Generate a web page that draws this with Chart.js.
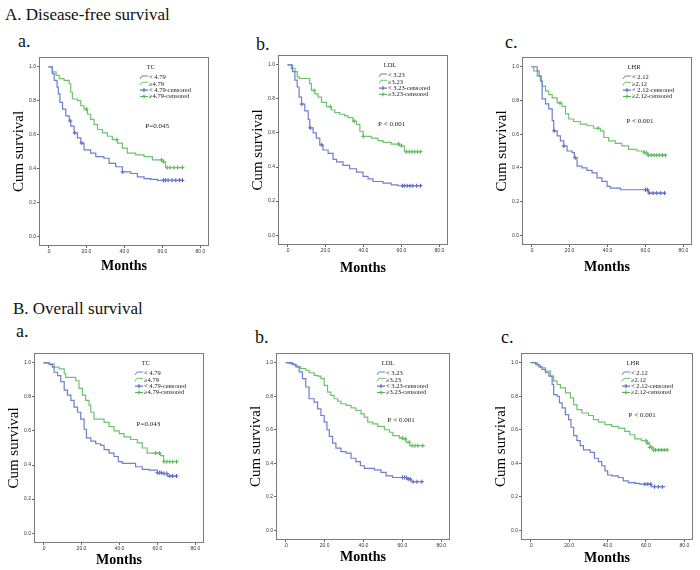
<!DOCTYPE html>
<html>
<head>
<meta charset="utf-8">
<script src="https://cdn.jsdelivr.net/npm/chart.js@4.4.0/dist/chart.umd.min.js"></script>
<style>
body{margin:0;background:#fff;width:700px;height:570px;position:relative;overflow:hidden;font-family:"Liberation Serif","DejaVu Serif",serif;}
.lbl{position:absolute;white-space:nowrap;line-height:20px;color:#111;}
canvas{position:absolute;}
</style>
</head>
<body>
<div class="lbl" style="left:5px;top:5px;font-size:17px">A. Disease-free survival</div>
<div class="lbl" style="left:18px;top:31px;font-size:18px">a.</div>
<div class="lbl" style="left:256px;top:34px;font-size:18px">b.</div>
<div class="lbl" style="left:505px;top:32px;font-size:18px">c.</div>
<div class="lbl" style="left:13px;top:299px;font-size:17px">B. Overall survival</div>
<div class="lbl" style="left:16px;top:321px;font-size:18px">a.</div>
<div class="lbl" style="left:255px;top:327px;font-size:18px">b.</div>
<div class="lbl" style="left:501px;top:327px;font-size:18px">c.</div>
<script>
/* ------------------------------------------- */
/* DATA -------------------------------------- */
/* ------------------------------------------- */
let xTickVals = [0, 20, 40, 60, 80];
let xTickLabels = ['.0', '20.0', '40.0', '60.0', '80.0'];
let yTickVals = [0, 0.2, 0.4, 0.6, 0.8, 1.0];
let yTickLabels = ['0.0', '0.2', '0.4', '0.6', '0.8', '1.0'];

let markers = ['TC', 'LDL', 'LHR'];
let cutoffs = ['4.79', '3.23', '2.12'];
let dfsPValues = ['P=0.045', 'P < 0.001', 'P < 0.001'];
let osPValues = ['P=0.043', 'P < 0.001', 'P < 0.001'];

/* Disease-free survival: [months, cum survival] steps */
let dfsTcLow = [[0,1],[2,0.96],[3,0.92],[4.5,0.88],[5.2,0.84],[6,0.79],[7.4,0.75],[9.1,0.71],[10.9,0.68],[11.7,0.65],[13.5,0.61],[15.2,0.58],[17,0.55],[18.7,0.51],[22.2,0.49],[24.9,0.47],[29.2,0.46],[31.9,0.43],[35.4,0.41],[38.9,0.38],[43.3,0.37],[46.8,0.35],[50.3,0.34],[53.8,0.335],[57.3,0.33],[70.5,0.33]];
let dfsTcHigh = [[0,1],[2,0.97],[4,0.95],[5.6,0.93],[8.2,0.92],[10.9,0.9],[11.7,0.85],[12.6,0.81],[15.2,0.8],[17,0.77],[18.7,0.75],[20.5,0.72],[22.2,0.69],[24,0.66],[25.8,0.63],[28.4,0.61],[31,0.59],[33.6,0.57],[36.3,0.55],[38.9,0.52],[41.5,0.49],[45.9,0.48],[50.3,0.47],[54.7,0.45],[60,0.44],[61.6,0.405],[70.5,0.405]];
let dfsLdlLow = [[0,1],[2.6,0.96],[3.9,0.91],[5.1,0.87],[6.1,0.81],[7.4,0.77],[9.1,0.73],[10.9,0.68],[11.7,0.63],[13.5,0.6],[15.2,0.57],[17,0.53],[18.7,0.5],[21.4,0.48],[24,0.445],[25.8,0.43],[29.2,0.41],[32.7,0.39],[36.3,0.37],[39.8,0.345],[42.4,0.33],[45,0.315],[50.3,0.305],[54.6,0.295],[58,0.29],[70,0.29]];
let dfsLdlHigh = [[0,1],[2,0.98],[3.9,0.96],[5.1,0.93],[6.1,0.92],[11.7,0.89],[12.6,0.85],[14.4,0.83],[16.1,0.81],[17.9,0.78],[20.5,0.755],[23.1,0.735],[24.9,0.72],[27.5,0.71],[30.1,0.7],[31.9,0.69],[34.5,0.67],[36.3,0.65],[38.1,0.61],[39.8,0.58],[44.1,0.57],[47.6,0.555],[50.3,0.545],[54.6,0.535],[59,0.525],[61.6,0.49],[70.5,0.49]];
let dfsLhrLow = [[0,1],[3,0.975],[4,0.945],[5.1,0.915],[5.6,0.81],[7.4,0.78],[9.1,0.75],[10.9,0.68],[11.7,0.62],[13.5,0.59],[15.2,0.56],[17,0.53],[18.7,0.5],[21.4,0.49],[22.6,0.46],[24,0.41],[26.6,0.4],[29.2,0.385],[31.9,0.37],[34.5,0.34],[37.1,0.32],[39.8,0.29],[41.5,0.28],[46.8,0.27],[61.6,0.25],[70,0.25]];
let dfsLhrHigh = [[0,1],[1.2,0.975],[3,0.945],[4.7,0.915],[5.6,0.885],[7.4,0.855],[9.1,0.835],[10.9,0.815],[13.5,0.785],[16.1,0.765],[17.9,0.72],[19.6,0.69],[22.2,0.675],[25.7,0.66],[29.2,0.65],[32.7,0.635],[36.3,0.62],[38.1,0.58],[40.6,0.56],[44.1,0.545],[47.6,0.53],[51.1,0.51],[55.5,0.5],[59,0.49],[60.8,0.475],[70.5,0.475]];

/* Overall survival */
let osTcLow = [[0,1],[3,0.99],[4.7,0.975],[5.6,0.945],[7.4,0.925],[9.1,0.89],[10.9,0.84],[12.6,0.81],[14.4,0.78],[16.1,0.74],[17.9,0.71],[19.6,0.67],[21.4,0.61],[22.6,0.56],[24.9,0.54],[27.5,0.525],[30.1,0.515],[31.9,0.49],[34.5,0.47],[37.1,0.45],[39.4,0.42],[41.5,0.41],[48.5,0.39],[52,0.375],[55.5,0.37],[59.9,0.355],[62.5,0.35],[65.1,0.335],[70,0.335]];
let osTcHigh = [[0,1],[3,0.995],[5.6,0.975],[8.2,0.965],[10.9,0.935],[11.7,0.915],[17,0.895],[18.7,0.85],[20.5,0.81],[22.2,0.78],[24,0.75],[24.9,0.71],[26.6,0.67],[31.9,0.65],[34.5,0.625],[37.1,0.6],[39.8,0.585],[42.4,0.565],[45.9,0.55],[49.4,0.53],[52,0.5],[54.6,0.47],[61.6,0.455],[63.2,0.42],[70,0.42]];
let osLdlLow = [[0,1],[3.4,0.99],[5.2,0.975],[6.9,0.945],[8.6,0.905],[10.3,0.855],[12,0.785],[14.6,0.765],[16.4,0.725],[18.1,0.685],[19.8,0.645],[21.2,0.6],[22.4,0.56],[24.1,0.52],[25.8,0.49],[28.4,0.47],[31,0.46],[33.6,0.43],[36.1,0.41],[38.4,0.385],[40.4,0.37],[45.6,0.36],[49,0.345],[51.6,0.325],[55,0.315],[62.8,0.305],[64.5,0.29],[70,0.29]];
let osLdlHigh = [[0,1],[1.7,0.995],[4.3,0.985],[6,0.975],[7.7,0.965],[10.3,0.955],[12,0.94],[14.6,0.925],[16.4,0.92],[18.1,0.905],[19.8,0.865],[21.5,0.825],[23.2,0.805],[24.9,0.785],[26.7,0.77],[28.4,0.755],[31,0.745],[33.6,0.73],[36.1,0.715],[38.7,0.695],[40.4,0.675],[42.2,0.645],[44.8,0.635],[47.3,0.62],[50.8,0.6],[53.4,0.585],[55.1,0.565],[58.5,0.55],[60.2,0.545],[62,0.525],[63.7,0.505],[70.5,0.505]];
let osLhrLow = [[0,1],[2.6,0.99],[4.3,0.975],[6,0.96],[7.7,0.94],[9.5,0.92],[11.2,0.87],[12,0.81],[13.8,0.8],[15,0.76],[16.4,0.73],[18.1,0.69],[19.8,0.66],[21,0.615],[22.4,0.565],[24.1,0.535],[25.8,0.505],[27.5,0.48],[31,0.465],[33.2,0.43],[35.3,0.41],[37,0.385],[38.7,0.355],[40.1,0.33],[42.2,0.325],[45.6,0.315],[48.2,0.295],[50.8,0.285],[54.2,0.28],[56.8,0.275],[62.8,0.26],[70,0.26]];
let osLhrHigh = [[0,1],[3.4,0.985],[5.2,0.97],[7.7,0.95],[10.3,0.92],[12,0.89],[13.8,0.87],[15.5,0.85],[18.1,0.82],[20.7,0.79],[22.4,0.75],[24.1,0.72],[26.7,0.7],[30.1,0.685],[32.7,0.66],[35.3,0.645],[38.7,0.63],[42.2,0.62],[45.6,0.61],[49,0.59],[51.6,0.57],[54.2,0.545],[57.6,0.535],[60.2,0.52],[62,0.495],[63.7,0.48],[71,0.48]];

/* Censored times (months) */
let dfsTcLowCens = [11.5,13.8,17.5,39,60.5,61.5,63,65,67,69,70.5];
let dfsTcHighCens = [20,36,59.5,60.5,62.5,64,66,68,70.5];
let dfsLdlLowCens = [7.5,12,18,60.5,61.5,63,64.5,66,68,70];
let dfsLdlHighCens = [14,22.5,35,40,58.5,60,62.5,64,65.5,67,68.5,70];
let dfsLhrLowCens = [12,17,23,60,61,62,64,66,68,70];
let dfsLhrHighCens = [15,35,59.5,60.5,61.5,63,64.5,66,67.5,69,70.5];
let osTcLowCens = [60,61,62,63.5,65,66.5,68,70];
let osTcHighCens = [59,61,63.5,65,66.5,68,70];
let osLdlLowCens = [60,61,62,63,64,65.5,67.5,70];
let osLdlHighCens = [60,61.5,63.5,65,66.5,68,70.5];
let osLhrLowCens = [59.5,61,62.5,64.5,66.5,68.5];
let osLhrHighCens = [60,61,62,63,64,65,66.5,68,69.5,71];

/* ------------------------------------------- */
/* STYLE ------------------------------------- */
/* ------------------------------------------- */
let serif = "'Liberation Serif', 'DejaVu Serif', serif";
let sans = "'Liberation Sans', 'DejaVu Sans', sans-serif";
let blueLine = '#6f7ed0';
let blueMark = '#3f4fb0';
let greenLine = '#6cc46c';
let greenMark = '#3fae3f';

/* panel frame boxes on the page: left, top, right, bottom */
let panels = [
  {frame:[39,57,209,246], gap:20, m:0, p:dfsPValues[0], pAt:[51,0.65], low:dfsTcLow, high:dfsTcHigh, lowC:dfsTcLowCens, highC:dfsTcHighCens},
  {frame:[278,55,448,245], gap:23, m:1, p:dfsPValues[1], pAt:[47.7,0.65], low:dfsLdlLow, high:dfsLdlHigh, lowC:dfsLdlLowCens, highC:dfsLdlHighCens},
  {frame:[522,57,692,245], gap:22, m:2, p:dfsPValues[2], pAt:[50,0.675], low:dfsLhrLow, high:dfsLhrHigh, lowC:dfsLhrLowCens, highC:dfsLhrHighCens},
  {frame:[34,353,204,543], gap:17, m:0, p:osPValues[0], pAt:[49,0.64], low:osTcLow, high:osTcHigh, lowC:osTcLowCens, highC:osTcHighCens},
  {frame:[276,353,450,540], gap:17, m:1, p:osPValues[1], pAt:[52.4,0.66], low:osLdlLow, high:osLdlHigh, lowC:osLdlLowCens, highC:osLdlHighCens},
  {frame:[521,353,693,540], gap:18, m:2, p:osPValues[2], pAt:[51,0.69], low:osLhrLow, high:osLhrHigh, lowC:osLhrLowCens, highC:osLhrHighCens}
];

function stepValue(curve, t) {
  let v = curve[0][1];
  curve.forEach(function(d) { if (d[0] <= t) v = d[1]; });
  return v;
}

/* frame round the plot area */
let framePlugin = {
  id: 'frameBox',
  beforeDatasetsDraw(chart) {
    let a = chart.chartArea, ctx = chart.ctx;
    ctx.save();
    ctx.strokeStyle = '#7a7a7a';
    ctx.lineWidth = 1;
    ctx.strokeRect(a.left + 0.5, a.top + 0.5, a.right - a.left - 1, a.bottom - a.top - 1);
    ctx.restore();
  }
};

/* SPSS style legend + p value */
let kmLegend = {
  id: 'kmLegend',
  afterDraw(chart, args, opts) {
    let a = chart.chartArea, ctx = chart.ctx;
    let m = opts.m;
    let rows = ['< ' + cutoffs[m], '\u2265' + cutoffs[m], '< ' + cutoffs[m] + '-censored', '\u2265' + cutoffs[m] + '-censored'];
    let cols = [blueLine, greenLine, blueMark, greenMark];
    ctx.save();
    ctx.font = '6.5px ' + serif;
    ctx.fillStyle = '#1a1a1a';
    ctx.textBaseline = 'middle';
    ctx.textAlign = 'center';
    ctx.fillText(markers[m], a.left + 112, a.top + 10);
    ctx.textAlign = 'left';
    rows.forEach(function(txt, i) {
      let iy = a.top + 20.5 + i * 6.3;
      let ix = a.left + 101;
      ctx.strokeStyle = cols[i];
      ctx.lineWidth = 1;
      ctx.beginPath();
      if (i < 2) {
        ctx.moveTo(ix, iy + 1.5);
        ctx.lineTo(ix + 2, iy - 1.5);
        ctx.lineTo(ix + 8, iy - 1.5);
      } else {
        ctx.moveTo(ix, iy);
        ctx.lineTo(ix + 8, iy);
        ctx.moveTo(ix + 4, iy - 2);
        ctx.lineTo(ix + 4, iy + 2);
      }
      ctx.stroke();
      ctx.fillStyle = '#1a1a1a';
      ctx.fillText(txt, a.left + 110, iy);
    });
    let px = chart.scales.x.getPixelForValue(opts.pAt[0]);
    let py = chart.scales.y.getPixelForValue(opts.pAt[1]);
    ctx.font = '7px ' + serif;
    ctx.fillText(opts.p, px, py);
    ctx.restore();
  }
};

function makePanel(p) {
  let f = p.frame;
  let fw = f[2] - f[0], fh = f[3] - f[1];
  let xH = p.gap + 9;
  let cv = document.createElement('canvas');
  cv.width = fw + 36;
  cv.height = fh + 8 + xH;
  cv.style.left = (f[0] - 30) + 'px';
  cv.style.top = (f[1] - 8) + 'px';
  document.body.appendChild(cv);

  let toXY = function(c) { return c.map(function(d) { return {x: d[0], y: d[1]}; }); };
  let cens = function(c, times) { return times.map(function(t) { return {x: t, y: stepValue(c, t)}; }); };

  new Chart(cv, {
    type: 'line',
    data: {
      datasets: [
        {data: toXY(p.low), borderColor: blueLine, borderWidth: 1.2, stepped: true, pointRadius: 0, fill: false},
        {data: toXY(p.high), borderColor: greenLine, borderWidth: 1.2, stepped: true, pointRadius: 0, fill: false},
        {data: cens(p.low, p.lowC), showLine: false, pointStyle: 'cross', pointRadius: 2, borderColor: blueMark, borderWidth: 1},
        {data: cens(p.high, p.highC), showLine: false, pointStyle: 'cross', pointRadius: 2, borderColor: greenMark, borderWidth: 1}
      ]
    },
    options: {
      responsive: false,
      animation: false,
      layout: {padding: {left: 0, top: 8, right: 6, bottom: 0}},
      plugins: {
        legend: {display: false},
        tooltip: {enabled: false},
        kmLegend: {m: p.m, p: p.p, pAt: p.pAt}
      },
      scales: {
        x: {
          type: 'linear', min: -5, max: 84.5,
          afterBuildTicks: function(s) { s.ticks = xTickVals.map(function(v) { return {value: v}; }); },
          afterFit: function(s) { s.height = xH; },
          ticks: {callback: function(v, i) { return xTickLabels[i]; }, font: {size: 5, family: sans}, color: '#333', padding: 1, maxRotation: 0, autoSkip: false},
          grid: {drawOnChartArea: false, tickLength: 2, color: '#666'},
          border: {display: false},
          title: {display: true, text: 'Months', font: {size: 14, weight: 'bold', family: serif}, color: '#000', padding: 0}
        },
        y: {
          type: 'linear', min: -0.058, max: 1.058,
          afterBuildTicks: function(s) { s.ticks = yTickVals.map(function(v) { return {value: v}; }); },
          afterFit: function(s) { s.width = 30; },
          ticks: {callback: function(v, i) { return yTickLabels[i]; }, font: {size: 5, family: sans}, color: '#333', padding: 1, autoSkip: false},
          grid: {drawOnChartArea: false, tickLength: 2, color: '#666'},
          border: {display: false},
          title: {display: true, text: 'Cum survival', font: {size: 15, family: serif}, color: '#000', padding: {top: 1, bottom: 0}}
        }
      }
    },
    plugins: [framePlugin, kmLegend]
  });
}

panels.forEach(makePanel);
</script>
</body>
</html>
